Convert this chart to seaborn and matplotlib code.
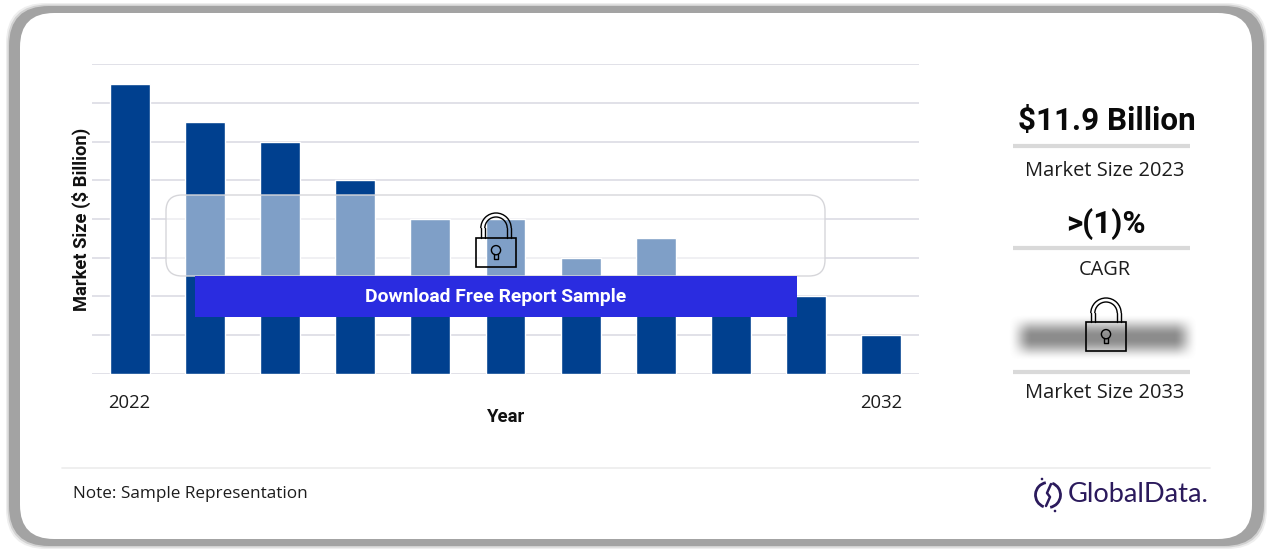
import numpy as np
import pandas as pd
import matplotlib
matplotlib.use('Agg')
import matplotlib.pyplot as plt
from matplotlib.patches import FancyBboxPatch, Rectangle, Circle, Arc
import seaborn as sns

# Data (2030 is hidden behind the banner, estimated)
years = [2022, 2023, 2024, 2025, 2026, 2027, 2028, 2029, 2030, 2031, 2032]
market_size = [7.5, 6.5, 6.0, 5.0, 4.0, 4.0, 3.0, 3.5, 2.5, 2.0, 1.0]
shown_years = ['2022', '', '', '', '', '', '', '', '', '', '2032']
kpi_values = ['$11.9 Billion', '>(1)%']
kpi_labels = ['Market Size 2023', 'CAGR', 'Market Size 2033']

W, H = 1272, 552
BAR = '#00408f'
GRID = '#d8d8e2'
TXT = '#1c1c1c'
FONT = 'Open Sans'
BOLD = 'Roboto'

sns.set_theme(style='white')
plt.rcParams['font.family'] = [FONT, 'DejaVu Sans']

fig = plt.figure(figsize=(W / 100, H / 100), dpi=100, facecolor='white')


def px_axes(z):
    a = fig.add_axes([0, 0, 1, 1], zorder=z)
    a.set_xlim(0, W)
    a.set_ylim(H, 0)
    a.axis('off')
    a.patch.set_alpha(0)
    return a


def rbox(a, x0, y0, x1, y1, r, **kw):
    p = FancyBboxPatch((x0 + r, y0 + r), x1 - x0 - 2 * r, y1 - y0 - 2 * r,
                       boxstyle=f'round,pad={r},rounding_size={r}', **kw)
    a.add_patch(p)


def lock(a, cx, top, w, body_h, shackle_h, lw=1.0):
    # shackle is a double line, body has no fill
    body_top = top + shackle_h
    for half in [w * 0.38, w * 0.28]:
        a.plot([cx - half, cx - half], [body_top, top + w * 0.38], color='black', lw=lw, zorder=5)
        a.plot([cx + half, cx + half], [body_top, top + w * 0.38], color='black', lw=lw, zorder=5)
        a.add_patch(Arc((cx, top + w * 0.38), half * 2, half * 2, theta1=180, theta2=360,
                        color='black', lw=lw, zorder=5))
    a.add_patch(Rectangle((cx - w / 2, body_top), w, body_h, fc='none', ec='black', lw=lw + 0.2, zorder=6))
    ky = body_top + body_h * 0.42
    a.add_patch(Circle((cx, ky), w * 0.115, fc='none', ec='black', lw=lw, zorder=6))
    a.plot([cx - w * 0.05, cx - w * 0.05, cx + w * 0.05, cx + w * 0.05],
           [ky + w * 0.1, ky + w * 0.22, ky + w * 0.22, ky + w * 0.1],
           color='black', lw=lw, zorder=6)


# Card with the soft grey border, heavier on the right and bottom
bg = px_axes(0)
for grow, col in [(3, '#eeeeee'), (1.5, '#d2d2d2'), (0, '#a3a3a3')]:
    rbox(bg, 9 - grow, 6 - grow, 1264 + grow, 546 + grow, 40, fc=col, ec='none')
rbox(bg, 20, 13, 1252, 539, 34, fc='white', ec='none')

# Bar chart
ax = fig.add_axes([92 / W, 1 - 373.6 / H, 827 / W, 309.2 / H], zorder=1)
ax.patch.set_alpha(0)
df = pd.DataFrame({'Year': years, 'Size': market_size})
sns.barplot(data=df, x='Year', y='Size', color=BAR, saturation=1, width=0.53, ax=ax, zorder=3)
ax.set_xlim(-0.5, 10.5)
ax.set_ylim(0, 8)
ax.set_yticks(range(9))
ax.set_yticklabels([])
ax.set_xticks(range(len(years)))
ax.set_xticklabels(shown_years, fontsize=13.3, color=TXT)
ax.tick_params(axis='both', length=0)
ax.tick_params(axis='x', pad=15)
ax.grid(axis='y', color=GRID, lw=1.1, zorder=0)
ax.set_axisbelow(True)
sns.despine(ax=ax, left=True, top=True, right=True, bottom=True)
ax.set_xlabel('')
ax.set_ylabel('')

# Everything on top of the chart, in pixel coordinates
top = px_axes(2)
top.text(81, 219.5, 'Market Size ($ Billion)', rotation=90, ha='center', va='center',
         fontsize=13.2, fontweight='bold', color='#111111', family=BOLD)
top.text(506, 417, 'Year', ha='center', va='center', fontsize=13.3, fontweight='bold',
         color='#111111', family=BOLD)

# Teaser veil and download banner
rbox(top, 166, 195, 825, 276, 16, fc=(1, 1, 1, 0.5), ec='#d6d6da', lw=1.0, zorder=3)
top.add_patch(Rectangle((195, 276), 602, 41, fc='#2a2ce0', ec='none', zorder=4))
top.text(495.5, 297, 'Download Free Report Sample', ha='center', va='center',
         fontsize=13.85, fontweight='bold', color='white', zorder=5, family=BOLD)
lock(top, 496, 213, 40, 29, 25)

# KPI column
for y in [146, 248, 372]:
    top.plot([1013, 1190], [y, y], color='#d9d9d9', lw=3, solid_capstyle='butt')
top.text(1106.5, 121, kpi_values[0], ha='center', va='center', fontsize=22.6, fontweight='bold',
         color='#0a0a0a', family=BOLD)
top.text(1106, 224, kpi_values[1], ha='center', va='center', fontsize=22.6, fontweight='bold',
         color='#0a0a0a', family=BOLD)
for y, s in zip([171.5, 270, 393.5], kpi_labels):
    top.text(1105, y, s, ha='center', va='center', fontsize=14.4, color=TXT)

# Blurred out value behind the second lock
gx, gy = np.meshgrid(np.linspace(1000, 1210, 210), np.linspace(305, 372, 67))
sx = np.clip((gx - 1008) / 24, 0, 1) * np.clip((1198 - gx) / 24, 0, 1)
sy = np.clip((gy - 314) / 22, 0, 1) * np.clip((361 - gy) / 22, 0, 1)
blur = np.zeros(gx.shape + (4,))
blur[..., :3] = 0.5
blur[..., 3] = 0.9 * (sx * sx * (3 - 2 * sx)) * (sy * sy * (3 - 2 * sy))
top.imshow(blur, extent=(1000, 1210, 372, 305), aspect='auto', zorder=2, interpolation='bilinear')
top.set_xlim(0, W)
top.set_ylim(H, 0)
lock(top, 1106, 298, 40, 29, 24)

# Footer
top.plot([62, 1210], [468, 468], color='#ececec', lw=1.2)
top.text(73, 494, 'Note: Sample Representation', ha='left', va='center', fontsize=12.3, color=TXT)

LOGO = '#2b1a5c'
top.add_patch(Arc((1048, 495), 25, 25, theta1=-70, theta2=80, color=LOGO, lw=2))
top.add_patch(Arc((1048, 495), 25, 25, theta1=110, theta2=260, color=LOGO, lw=2))
top.plot([1051, 1047, 1050, 1046], [484, 493, 497, 506], color=LOGO, lw=1.8)
top.add_patch(Circle((1042, 479), 1.3, fc=LOGO, ec='none'))
top.add_patch(Circle((1055, 511), 1.3, fc=LOGO, ec='none'))
top.text(1068, 495, 'GlobalData.', ha='left', va='center', fontsize=19.6, color=LOGO,
         family='Lato')

fig.savefig('out.png', dpi=100)
